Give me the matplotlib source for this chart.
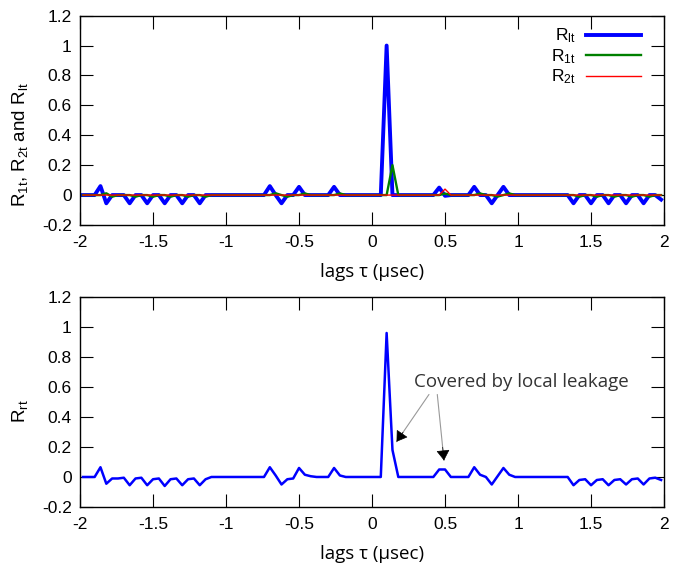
import matplotlib
matplotlib.use("Agg")
import matplotlib.pyplot as plt
from matplotlib.patches import ArrowStyle

# Lag axis (usec), sampled every 0.04 usec
lags = [
    -1.98, -1.94, -1.90, -1.86, -1.82, -1.78, -1.74, -1.70, -1.66, -1.62,
    -1.58, -1.54, -1.50, -1.46, -1.42, -1.38, -1.34, -1.30, -1.26, -1.22,
    -1.18, -1.14, -1.10, -1.06, -1.02, -0.98, -0.94, -0.90, -0.86, -0.82,
    -0.78, -0.74, -0.70, -0.66, -0.62, -0.58, -0.54, -0.50, -0.46, -0.42,
    -0.38, -0.34, -0.30, -0.26, -0.22, -0.18, -0.14, -0.10, -0.06, -0.02,
    0.02, 0.06, 0.10, 0.14, 0.18, 0.22, 0.26, 0.30, 0.34, 0.38,
    0.42, 0.46, 0.50, 0.54, 0.58, 0.62, 0.66, 0.70, 0.74, 0.78,
    0.82, 0.86, 0.90, 0.94, 0.98, 1.02, 1.06, 1.10, 1.14, 1.18,
    1.22, 1.26, 1.30, 1.34, 1.38, 1.42, 1.46, 1.50, 1.54, 1.58,
    1.62, 1.66, 1.70, 1.74, 1.78, 1.82, 1.86, 1.90, 1.94, 1.98,
]

r_lt = [
    0, 0, 0, 0.06, -0.055, 0, 0, 0, -0.055, 0,
    0, -0.055, 0, 0, -0.055, 0, 0, -0.055, 0, 0,
    -0.055, 0, 0, 0, 0, 0, 0, 0, 0, 0,
    0, 0, 0.06, 0, -0.055, 0, 0, 0.055, 0, 0,
    0, 0, 0, 0.055, 0, 0, 0, 0, 0, 0,
    0, 0, 1.0, 0, 0, 0, 0, 0, 0, 0,
    0, 0.05, -0.005, 0, 0, 0, 0, 0.055, 0, 0,
    -0.055, 0, 0.055, 0, 0, 0, 0, 0, 0, 0,
    0, 0, 0, 0, -0.055, 0, 0, -0.055, 0, 0,
    -0.055, 0, 0, -0.055, 0, 0, -0.055, 0, 0, -0.03,
]

r_1t = [
    0, 0, 0, 0, 0.012, -0.011, 0, 0, 0, -0.011,
    0, 0, -0.011, 0, 0, -0.011, 0, 0, -0.011, 0,
    0, -0.011, 0, 0, 0, 0, 0, 0, 0, 0,
    0, 0, 0, 0.012, 0, -0.011, 0, 0, 0.011, 0,
    0, 0, 0, 0, 0.011, 0, 0, 0, 0, 0,
    0, 0, 0, 0.2, 0, 0, 0, 0, 0, 0,
    0, 0, 0.01, 0, 0, 0, 0, 0, 0.011, 0,
    0, -0.01, 0, 0.011, 0, 0, 0, 0, 0, 0,
    0, 0, 0, 0, 0, -0.011, 0, 0, -0.011, 0,
    0, -0.011, 0, 0, -0.011, 0, 0, -0.011, 0, 0,
]

r_2t = [
    0, 0, 0, 0, 0, 0, 0, 0, 0, 0,
    0, 0, 0, 0, 0, 0, 0, 0, 0, 0,
    0, 0, 0, 0, 0, 0, 0, 0, 0, 0,
    0, 0, 0, 0, 0, 0, 0, 0, 0, 0,
    0, 0, 0, 0, 0, 0, 0, 0, 0, 0,
    0, 0, 0, 0, 0, 0, 0, 0, 0, 0,
    0, 0, 0.04, 0, 0, 0, 0, 0, 0, 0,
    0, 0, 0, 0, 0, 0, 0, 0, 0, 0,
    0, 0, 0, 0, 0, 0, 0, 0, 0, 0,
    0, 0, 0, 0, 0, 0, 0, 0, 0, 0,
]

r_rt = [
    0, 0, 0, 0.065, -0.045, -0.01, -0.01, -0.005, -0.055, -0.01,
    -0.005, -0.055, -0.015, -0.01, -0.06, -0.015, -0.01, -0.055, -0.015, -0.01,
    -0.055, -0.015, 0, 0, 0, 0, 0, 0, 0, 0,
    0, 0, 0.065, 0.01, -0.05, -0.015, -0.01, 0.06, 0.015, 0.005,
    0, 0, 0, 0.06, 0.01, 0, 0, 0, 0, 0,
    0, 0, 0.96, 0.18, 0, 0, 0, 0, 0, 0,
    0, 0.05, 0.05, 0, 0, 0, 0, 0.065, 0.015, 0,
    -0.05, 0.005, 0.06, 0.015, 0, 0, 0, 0, 0, 0,
    0, 0, 0, 0, -0.055, -0.02, -0.015, -0.055, -0.02, -0.015,
    -0.055, -0.02, -0.015, -0.05, -0.015, -0.01, -0.05, -0.01, -0.005, -0.02,
]

x_ticks = [-2, -1.5, -1, -0.5, 0, 0.5, 1, 1.5, 2]
x_ticklabels = ["-2", "-1.5", "-1", "-0.5", "0", "0.5", "1", "1.5", "2"]
y_ticks = [-0.2, 0, 0.2, 0.4, 0.6, 0.8, 1.0, 1.2]
y_ticklabels = ["-0.2", "0", "0.2", "0.4", "0.6", "0.8", "1", "1.2"]

# Annotation anchors (lag, value)
note_text = "Covered by local leakage"
note_pos = (0.285, 0.635)
arrow_tails = [(0.39, 0.55), (0.447, 0.55)]
arrow_tips = [(0.168, 0.235), (0.493, 0.11)]

plt.rcParams["font.family"] = ["Liberation Sans", "DejaVu Sans"]
plt.rcParams["mathtext.fontset"] = "custom"
plt.rcParams["mathtext.rm"] = "Liberation Sans"
plt.rcParams["mathtext.it"] = "Liberation Sans"
plt.rcParams["axes.linewidth"] = 1.0

TICK_FS = 12.5
YLABEL_FS = 13.5
XLABEL_FS = 13.5
SANS2 = ["Open Sans", "DejaVu Sans"]

fig = plt.figure(figsize=(6.84, 5.63), dpi=100)
ax1 = fig.add_axes([0.117, 0.6004, 0.8538, 0.3718])
ax2 = fig.add_axes([0.117, 0.0995, 0.8538, 0.3730])


def style_axes(ax):
    ax.set_xlim(-2, 2)
    ax.set_ylim(-0.2, 1.2)
    ax.set_xticks(x_ticks)
    ax.set_xticklabels(x_ticklabels)
    ax.set_yticks(y_ticks)
    ax.set_yticklabels(y_ticklabels)
    ax.tick_params(direction="in", length=9.5, width=0.8, top=True, right=True,
                   labelsize=TICK_FS, colors="black")
    ax.tick_params(axis="x", pad=7.5)
    ax.tick_params(axis="y", pad=6)
    ax.set_xlabel("lags τ (µsec)", family=SANS2, fontsize=XLABEL_FS, labelpad=9)


# Upper panel: the three correlation components
ax1.plot(lags, r_lt, color="#0000ff", lw=2.8, label=r"R$_{\rm lt}$")
ax1.plot(lags, r_1t, color="#008000", lw=1.7, label=r"R$_{\rm 1t}$")
ax1.plot(lags, r_2t, color="#ff0000", lw=1.0, label=r"R$_{\rm 2t}$")
style_axes(ax1)
ax1.set_ylabel(r"R$_{\rm 1t}$, R$_{\rm 2t}$ and R$_{\rm lt}$", fontsize=YLABEL_FS)
ax1.yaxis.set_label_coords(-0.085, 0.382)
leg = ax1.legend(loc="upper right", bbox_to_anchor=(0.982, 1.005), frameon=False,
                 markerfirst=False, fontsize=TICK_FS, handlelength=3.2,
                 labelspacing=0.1, handletextpad=0.6, borderpad=0.2)
for col in leg._legend_handle_box.get_children():
    col.align = "right"

# Lower panel: residual correlation
ax2.plot(lags, r_rt, color="#0000ff", lw=1.8)
style_axes(ax2)
ax2.set_ylabel(r"R$_{\rm rt}$", fontsize=YLABEL_FS)
ax2.yaxis.set_label_coords(-0.085, 0.457)

ax2.text(note_pos[0], note_pos[1], note_text, family=SANS2, fontsize=13.5,
         color="#333333", ha="left", va="center")
head = ArrowStyle("-|>", head_length=6.5, head_width=4.2)
for tail, tip in zip(arrow_tails, arrow_tips):
    ax2.annotate("", xy=tip, xytext=tail,
                 arrowprops=dict(arrowstyle="-", color="#999999", lw=0.8,
                                 shrinkA=0, shrinkB=0))
    # black head drawn on the last stretch of the shaft
    tx = tail[0] + (tip[0] - tail[0]) * 0.8
    ty = tail[1] + (tip[1] - tail[1]) * 0.8
    ax2.annotate("", xy=tip, xytext=(tx, ty),
                 arrowprops=dict(arrowstyle=head, color="black", lw=0.5,
                                 mutation_scale=1, shrinkA=0, shrinkB=0))

fig.savefig("out.png", dpi=100)
